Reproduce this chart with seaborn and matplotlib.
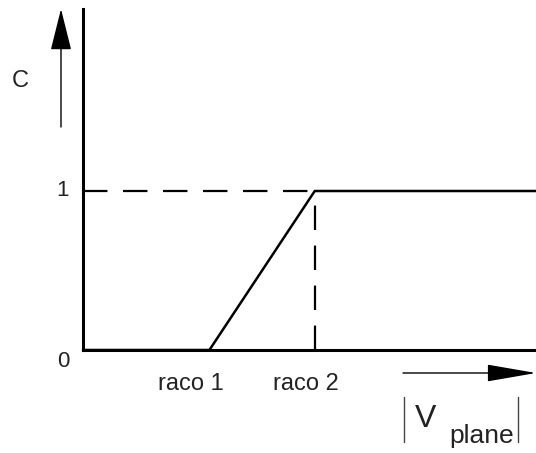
import numpy as np
import pandas as pd
import seaborn as sns
import matplotlib.pyplot as plt

sns.set_theme(style="white")
plt.rcParams['font.family'] = ['Liberation Sans', 'DejaVu Sans']

# data: piecewise C(V) curve
v_points = [0.0, 1.2, 2.2, 4.3]
c_points = [0.0, 0.0, 1.0, 1.0]
raco_labels = ["raco 1", "raco 2"]
raco_values = [1.2, 2.2]
y_ticks = [0, 1]

df = pd.DataFrame({"V": v_points, "C": c_points})

W, H = 536, 453
fig = plt.figure(figsize=(W / 100, H / 100), dpi=100)
fig.patch.set_facecolor("white")

# main axes, placed in pixel terms
x0, x1, ytop, ybot = 83, 536, 9, 350
ax = fig.add_axes([x0 / W, (H - ybot) / H, (x1 - x0) / W, (ybot - ytop) / H])
ax.set_xlim(0, 4.3)
ax.set_ylim(0, (ybot - ytop) / (ybot - 191))

sns.lineplot(data=df, x="V", y="C", color="black", linewidth=1.8, ax=ax, clip_on=False)

# dashed guides to raco 2 / C=1
ax.plot([0, raco_values[1]], [1, 1], color="black", lw=1.6, ls=(0, (11, 7)))
ax.plot([raco_values[1], raco_values[1]], [0, 1], color="black", lw=1.6, ls=(0, (11, 7)))

sns.despine(ax=ax, top=True, right=True)
for side in ["left", "bottom"]:
    ax.spines[side].set_color("black")
    ax.spines[side].set_linewidth(2.2)
ax.set_xticks([])
ax.set_yticks([])
ax.set_xlabel("")
ax.set_ylabel("")
ax.set_facecolor("none")

# labels on the axes
for t in y_ticks:
    ax.text(-20 / 105.3, t - 0.07 * (t == 0), str(t), ha="center", va="center",
            fontsize=16, color="#222222")
for lab, val in zip(raco_labels, raco_values):
    ax.text(val - 0.18 if lab == "raco 1" else val - 0.08, -0.215, lab,
            ha="center", va="center", fontsize=17, color="#222222")

# overlay in pixel coordinates for arrows and axis names
ov = fig.add_axes([0, 0, 1, 1])
ov.set_xlim(0, W)
ov.set_ylim(H, 0)
ov.axis("off")
ov.patch.set_alpha(0)

ov.annotate("", xy=(61, 9), xytext=(61, 127), annotation_clip=False,
            arrowprops=dict(arrowstyle="-|>,head_length=2.2,head_width=0.55",
                            color="black", lw=1.0, shrinkA=0, shrinkB=0))
ov.text(20, 81, "C", ha="center", va="center", fontsize=17, color="#222222")

ov.annotate("", xy=(536, 373), xytext=(403, 373), annotation_clip=False,
            arrowprops=dict(arrowstyle="-|>,head_length=2.6,head_width=0.45",
                            color="black", lw=1.0, shrinkA=0, shrinkB=0))

ov.plot([404, 404], [397, 442], color="#444444", lw=1.0)
ov.plot([518, 518], [397, 442], color="#444444", lw=1.0)
ov.text(426, 419, "V", ha="center", va="center", fontsize=23, color="#222222")
ov.text(482, 436, "plane", ha="center", va="center", fontsize=19, color="#222222")

fig.savefig("out.png", dpi=100, facecolor="white")
